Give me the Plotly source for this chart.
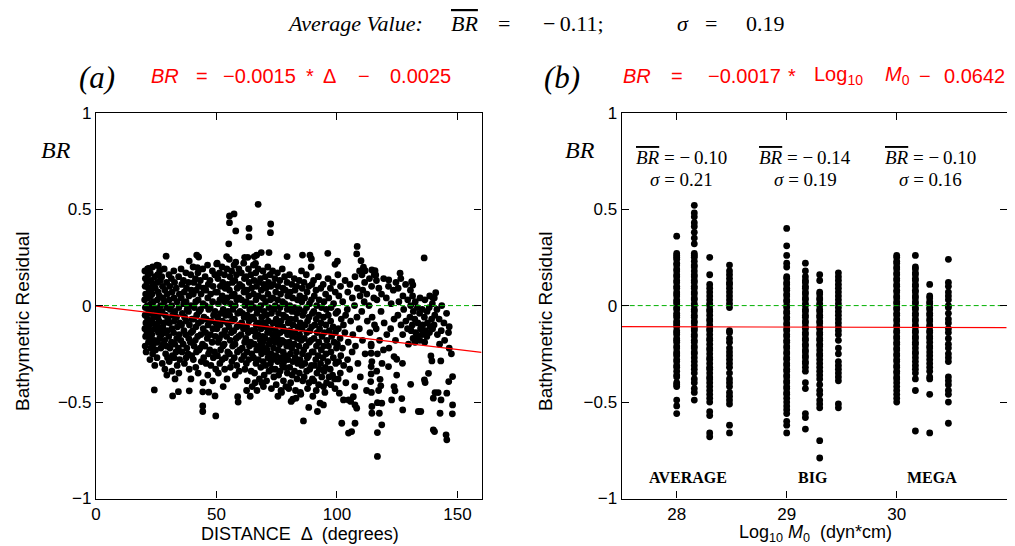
import plotly.graph_objects as go

# ---------------- data: panel (a)  (distance in degrees, BR) ----------------
outliers_top = [(67.3,0.525),(55.4,0.465),(57.3,0.475),(55.4,0.43),(58.0,0.387),(63.5,0.40),(63.5,0.356),
    (72.5,0.423),(72.4,0.378),(55.1,0.32),(108.4,0.307),(108.2,0.268),(136.2,0.247),(96.2,0.271),(85.7,0.262),
    (88.8,0.261),(89.4,0.242),(79.3,0.254),(68.6,0.275),(71.8,0.275),(66.7,0.262),(65.7,0.254),(66.2,0.219),
    (61.7,0.25),(63.0,0.25),(29.1,0.256),(38.7,0.231),(41.8,0.262),(42.6,0.252),(42.1,0.197),(54.2,0.254),
    (50.1,0.216),(58.0,0.225),(25.9,0.207),(21.9,0.193),(99.2,0.214),(100.2,0.23),(110.0,0.233),(111.0,0.199),
    (111.7,0.181),(114.5,0.185),(115.8,0.181),(116.1,0.159),(126.2,0.168),(121.5,0.133),(131.0,0.124),
    (131.5,0.107),(141.0,0.067),(139.8,0.041)]
outliers_low = [(146.6,-0.109),(146.6,-0.221),(148.0,-0.368),(146.4,-0.394),(148.0,-0.515),(147.9,-0.561),
    (145.3,-0.67),(145.6,-0.696),(140.0,-0.644),(140.5,-0.653),(142.8,-0.558),(143.2,-0.489),(140.0,-0.48),
    (140.7,-0.451),(142.0,-0.451),(145.6,-0.454),(133.8,-0.549),(134.8,-0.549),(136.3,-0.385),(136.6,-0.399),
    (138.0,-0.351),(130.6,-0.408),(139.0,-0.261),(139.4,-0.287),(143.1,-0.287),(127.3,-0.541),(126.9,-0.482),
    (122.7,-0.489),(123.7,-0.42),(124.1,-0.442),(121.4,-0.316),(123.7,-0.264),(124.8,-0.278),(127.2,-0.299),
    (117.9,-0.382),(118.2,-0.416),(116.8,-0.503),(118.6,-0.506),(117.6,-0.558),(118.6,-0.618),(116.8,-0.658),
    (116.8,-0.782),(114.5,-0.523),(114.5,-0.558),(114.2,-0.316),(114.2,-0.354),(114.0,-0.394),(114.2,-0.247),
    (114.2,-0.209),(104.8,-0.661),(106.1,-0.653),(107.5,-0.61),(102.0,-0.61),(107.5,-0.515),(108.2,-0.532),
    (106.8,-0.472),(104.8,-0.489),(105.7,-0.497),(101.0,-0.454),(102.7,-0.489),(86.1,-0.598),(88.3,-0.528),
    (91.9,-0.549),(93.0,-0.506),(94.4,-0.515),(81.0,-0.497),(81.7,-0.485),(49.7,-0.572),(44.3,-0.52),
    (44.3,-0.549),(24.2,-0.437),(31.8,-0.468),(34.2,-0.446),(38.7,-0.442),(44.3,-0.447),(46.8,-0.449),
    (49.4,-0.468),(58.8,-0.472),(66.0,-0.40),(69.5,-0.42),(75.5,-0.47),(77.0,-0.45),(80.0,-0.43),(83.0,-0.48),
    (85.0,-0.46),(90.0,-0.47),(95.0,-0.45),(97.5,-0.41),(99.0,-0.38),(62.5,-0.44),(64.0,-0.47)]
cloud_20_35 = [(20.3,0.18),(20.5,0.14),(20.4,0.10),(20.6,0.06),(20.2,0.03),(20.5,-0.01),(20.4,-0.05),(20.7,-0.09),
    (20.3,-0.12),(20.6,-0.16),(20.4,-0.21),(20.8,-0.24),(21.4,0.19),(21.6,0.16),(21.2,0.12),(21.8,0.09),(21.5,0.04),
    (21.3,0.00),(21.9,-0.03),(21.4,-0.07),(21.7,-0.11),(21.2,-0.14),(21.8,-0.19),(22.5,0.17),(22.8,0.13),(22.3,0.08),
    (22.6,0.05),(22.9,0.01),(22.4,-0.04),(22.7,-0.08),(22.2,-0.10),(22.9,-0.13),(22.5,-0.17),(22.8,-0.22),(22.4,-0.28),
    (23.5,0.20),(23.7,0.11),(23.3,0.06),(23.8,0.02),(23.4,-0.02),(23.9,-0.06),(23.6,-0.09),(23.2,-0.15),(23.8,-0.20),
    (23.5,-0.25),(24.4,0.15),(24.6,0.09),(24.3,-0.01),(24.8,-0.05),(24.5,-0.12),(24.2,-0.18),(24.7,-0.23),(24.4,-0.31),
    (25.3,0.21),(25.6,0.16),(25.4,0.12),(25.8,0.07),(25.5,0.03),(25.2,-0.02),(25.7,-0.06),(25.4,-0.10),(25.9,-0.14),
    (25.5,-0.19),(25.3,-0.27),(26.4,0.18),(26.7,0.13),(26.3,0.05),(26.8,0.00),(26.5,-0.04),(26.2,-0.08),(26.7,-0.12),
    (26.4,-0.17),(26.9,-0.22),(27.3,0.15),(27.6,0.10),(27.8,0.04),(27.4,-0.03),(27.7,-0.11),(27.2,-0.15),(27.9,-0.20),
    (27.5,-0.30),(28.3,0.19),(28.6,0.08),(28.4,0.02),(28.8,-0.05),(28.3,-0.09),(28.7,-0.14),(28.5,-0.18),(28.9,-0.25),
    (28.6,-0.33),(29.3,0.12),(29.6,0.06),(29.4,-0.01),(29.8,-0.07),(29.5,-0.13),(29.2,-0.21),(29.7,-0.27),(29.4,-0.36),
    (30.3,0.16),(30.6,0.10),(30.4,0.03),(30.8,-0.02),(30.5,-0.09),(30.2,-0.16),(30.7,-0.22),(30.4,-0.29),(31.3,0.14),
    (31.6,0.07),(31.4,0.00),(31.8,-0.05),(31.5,-0.12),(31.3,-0.19),(31.7,-0.26),(31.5,-0.34),(32.3,0.18),(32.6,0.12),
    (32.4,0.04),(32.8,-0.03),(32.5,-0.08),(32.2,-0.14),(32.7,-0.20),(32.4,-0.27),(32.8,-0.38),(33.3,0.09),(33.6,0.02),
    (33.4,-0.06),(33.8,-0.11),(33.5,-0.17),(33.2,-0.24),(33.7,-0.31),(34.3,0.15),(34.6,0.06),(34.4,-0.01),(34.8,-0.09),
    (34.5,-0.15),(34.2,-0.22),(34.7,-0.28),(34.4,-0.35)]
cloud_35_50 = [(35.3,0.19),(35.6,0.11),(35.4,0.04),(35.8,-0.04),(35.5,-0.10),(35.2,-0.18),(35.7,-0.24),(36.3,0.13),
    (36.6,0.07),(36.4,0.01),(36.8,-0.06),(36.5,-0.13),(36.2,-0.20),(36.7,-0.30),(37.3,0.17),(37.6,0.09),(37.4,0.02),
    (37.8,-0.02),(37.5,-0.08),(37.2,-0.15),(37.7,-0.22),(37.4,-0.27),(38.3,0.12),(38.6,0.05),(38.4,-0.03),(38.8,-0.10),
    (38.5,-0.17),(38.2,-0.25),(38.7,-0.33),(39.3,0.16),(39.6,0.08),(39.4,0.00),(39.8,-0.07),(39.5,-0.14),(39.2,-0.19),
    (39.7,-0.26),(39.4,-0.38),(40.3,0.20),(40.6,0.12),(40.4,0.06),(40.8,-0.01),(40.5,-0.07),(40.2,-0.13),(40.7,-0.21),
    (40.4,-0.28),(41.3,0.14),(41.6,0.08),(41.4,0.02),(41.8,-0.05),(41.5,-0.11),(41.2,-0.18),(41.7,-0.24),(41.4,-0.32),
    (42.3,0.17),(42.6,0.10),(42.4,0.03),(42.8,-0.03),(42.5,-0.09),(42.2,-0.16),(42.7,-0.23),(42.4,-0.35),(43.3,0.13),
    (43.6,0.06),(43.4,-0.02),(43.8,-0.08),(43.5,-0.15),(43.2,-0.22),(43.7,-0.29),(44.3,0.19),(44.6,0.09),(44.4,0.01),
    (44.8,-0.06),(44.5,-0.12),(44.2,-0.20),(44.7,-0.27),(44.4,-0.40),(45.3,0.15),(45.6,0.08),(45.4,0.00),(45.8,-0.07),
    (45.5,-0.14),(45.2,-0.21),(45.7,-0.30),(46.3,0.21),(46.6,0.11),(46.4,0.04),(46.8,-0.02),(46.5,-0.10),(46.2,-0.17),
    (46.7,-0.25),(46.4,-0.36),(47.3,0.13),(47.6,0.06),(47.4,-0.01),(47.8,-0.08),(47.5,-0.15),(47.2,-0.23),(47.7,-0.31),
    (48.3,0.18),(48.6,0.10),(48.4,0.02),(48.8,-0.05),(48.5,-0.12),(48.2,-0.19),(48.7,-0.27),(48.4,-0.39),(49.3,0.16),
    (49.6,0.07),(49.4,-0.03),(49.8,-0.09),(49.5,-0.16),(49.2,-0.24),(49.7,-0.33)]
cloud_50_65 = [(50.3,0.22),(50.6,0.14),(50.4,0.07),(50.8,0.01),(50.5,-0.06),(50.2,-0.12),(50.7,-0.19),(50.4,-0.26),
    (50.8,-0.35),(51.3,0.17),(51.6,0.10),(51.4,0.03),(51.8,-0.04),(51.5,-0.10),(51.2,-0.17),(51.7,-0.23),(51.4,-0.30),
    (52.3,0.20),(52.6,0.12),(52.4,0.05),(52.8,-0.02),(52.5,-0.08),(52.2,-0.15),(52.7,-0.21),(52.4,-0.28),(52.8,-0.42),
    (53.3,0.16),(53.6,0.09),(53.4,0.02),(53.8,-0.05),(53.5,-0.13),(53.2,-0.20),(53.7,-0.27),(53.4,-0.33),(54.3,0.19),
    (54.6,0.11),(54.4,0.04),(54.8,-0.03),(54.5,-0.09),(54.2,-0.16),(54.7,-0.24),(54.4,-0.38),(55.3,0.24),(55.6,0.15),
    (55.4,0.08),(55.8,0.01),(55.5,-0.05),(55.2,-0.11),(55.7,-0.18),(55.4,-0.25),(55.8,-0.32),(56.3,0.18),(56.6,0.12),
    (56.4,0.05),(56.8,-0.02),(56.5,-0.08),(56.2,-0.14),(56.7,-0.21),(56.4,-0.29),(57.3,0.21),(57.6,0.13),(57.4,0.06),
    (57.8,0.00),(57.5,-0.07),(57.2,-0.13),(57.7,-0.20),(57.4,-0.27),(57.8,-0.36),(58.3,0.16),(58.6,0.09),(58.4,0.03),
    (58.8,-0.04),(58.5,-0.11),(58.2,-0.17),(58.7,-0.24),(58.4,-0.31),(59.3,0.19),(59.6,0.11),(59.4,0.04),(59.8,-0.03),
    (59.5,-0.10),(59.2,-0.16),(59.7,-0.23),(59.4,-0.34),(59.0,-0.50),(60.3,0.17),(60.6,0.10),(60.4,0.03),(60.8,-0.04),
    (60.5,-0.09),(60.2,-0.15),(60.7,-0.22),(60.4,-0.28),(61.3,0.22),(61.6,0.14),(61.4,0.07),(61.8,0.00),(61.5,-0.06),
    (61.2,-0.12),(61.7,-0.19),(61.4,-0.26),(61.8,-0.33),(62.3,0.15),(62.6,0.08),(62.4,0.02),(62.8,-0.05),(62.5,-0.11),
    (62.2,-0.17),(62.7,-0.24),(62.4,-0.30),(62.8,-0.39),(63.3,0.19),(63.6,0.12),(63.4,0.05),(63.8,-0.02),(63.5,-0.08),
    (63.2,-0.14),(63.7,-0.21),(63.4,-0.28),(64.3,0.16),(64.6,0.09),(64.4,0.01),(64.8,-0.06),(64.5,-0.13),(64.2,-0.19),
    (64.7,-0.25),(64.4,-0.34),(64.8,-0.42)]
cloud_65_80 = [(65.3,0.21),(65.6,0.13),(65.4,0.06),(65.8,-0.01),(65.5,-0.07),(65.2,-0.13),(65.7,-0.20),(65.4,-0.27),
    (65.8,-0.35),(66.3,0.17),(66.6,0.10),(66.4,0.03),(66.8,-0.04),(66.5,-0.10),(66.2,-0.16),(66.7,-0.23),(66.4,-0.30),
    (66.8,-0.44),(67.3,0.19),(67.6,0.12),(67.4,0.05),(67.8,-0.02),(67.5,-0.09),(67.2,-0.15),(67.7,-0.21),(67.4,-0.28),
    (67.8,-0.38),(68.3,0.14),(68.6,0.08),(68.4,0.00),(68.8,-0.06),(68.5,-0.12),(68.2,-0.18),(68.7,-0.25),(68.4,-0.32),
    (68.8,-0.40),(69.3,0.18),(69.6,0.11),(69.4,0.04),(69.8,-0.03),(69.5,-0.09),(69.2,-0.16),(69.7,-0.22),(69.4,-0.29),
    (69.8,-0.36),(69.2,-0.19),(66.0,-0.13),(68.0,-0.22),(70.3,0.15),(70.6,0.09),(70.4,0.02),(70.8,-0.05),(70.5,-0.11),
    (70.2,-0.17),(70.7,-0.24),(70.4,-0.31),(70.8,-0.39),(71.3,0.20),(71.6,0.12),(71.4,0.06),(71.8,-0.01),(71.5,-0.08),
    (71.2,-0.14),(71.7,-0.20),(71.4,-0.27),(71.8,-0.34),(72.3,0.16),(72.6,0.10),(72.4,0.03),(72.8,-0.04),(72.5,-0.12),
    (72.2,-0.18),(72.7,-0.25),(72.4,-0.30),(72.8,-0.43),(73.3,0.18),(73.6,0.11),(73.4,0.04),(73.8,-0.02),(73.5,-0.09),
    (73.2,-0.15),(73.7,-0.22),(73.4,-0.28),(73.8,-0.37),(74.3,0.14),(74.6,0.07),(74.4,0.00),(74.8,-0.07),(74.5,-0.13),
    (74.2,-0.19),(74.7,-0.26),(74.4,-0.33),(74.8,-0.41),(71.0,-0.23),(73.0,-0.33),(74.0,-0.16),(75.3,0.17),(75.6,0.10),
    (75.4,0.03),(75.8,-0.04),(75.5,-0.10),(75.2,-0.16),(75.7,-0.23),(75.4,-0.29),(75.8,-0.36),(76.3,0.13),(76.6,0.06),
    (76.4,-0.01),(76.8,-0.08),(76.5,-0.14),(76.2,-0.20),(76.7,-0.27),(76.4,-0.34),(76.8,-0.44),(77.3,0.19),(77.6,0.09),
    (77.4,0.02),(77.8,-0.05),(77.5,-0.11),(77.2,-0.18),(77.7,-0.24),(77.4,-0.31),(77.8,-0.39),(78.3,0.15),(78.6,0.08),
    (78.4,0.01),(78.8,-0.06),(78.5,-0.13),(78.2,-0.19),(78.7,-0.26),(78.4,-0.32),(78.8,-0.42),(79.3,0.12),(79.6,0.05),
    (79.4,-0.02),(79.8,-0.09),(79.5,-0.15),(79.2,-0.21),(79.7,-0.28),(79.4,-0.35),(76.0,-0.18),(78.0,-0.29)]
cloud_80_100 = [(80.3,0.16),(80.6,0.07),(80.4,0.00),(80.8,-0.07),(80.5,-0.13),(80.2,-0.19),(80.7,-0.25),(80.4,-0.32),
    (80.8,-0.40),(81.3,0.11),(81.6,0.04),(81.4,-0.03),(81.8,-0.10),(81.5,-0.16),(81.2,-0.22),(81.7,-0.29),(81.4,-0.36),
    (82.3,0.14),(82.6,0.08),(82.4,-0.01),(82.8,-0.07),(82.5,-0.14),(82.2,-0.20),(82.7,-0.27),(82.4,-0.34),(82.8,-0.44),
    (83.3,0.10),(83.6,0.03),(83.4,-0.04),(83.8,-0.11),(83.5,-0.17),(83.2,-0.24),(83.7,-0.30),(83.4,-0.38),(84.3,0.13),
    (84.6,0.05),(84.4,-0.02),(84.8,-0.09),(84.5,-0.15),(84.2,-0.21),(84.7,-0.28),(84.4,-0.35),(84.8,-0.45),(85.3,0.18),
    (85.6,0.09),(85.4,0.02),(85.8,-0.05),(85.5,-0.12),(85.2,-0.18),(85.7,-0.25),(85.4,-0.31),(85.8,-0.39),(86.3,0.12),
    (86.6,0.04),(86.4,-0.03),(86.8,-0.10),(86.5,-0.17),(86.2,-0.23),(86.7,-0.30),(86.4,-0.37),(87.3,0.16),(87.6,0.07),
    (87.4,-0.01),(87.8,-0.08),(87.5,-0.14),(87.2,-0.21),(87.7,-0.27),(87.4,-0.34),(87.8,-0.43),(88.3,0.10),(88.6,0.01),
    (88.4,-0.06),(88.8,-0.13),(88.5,-0.19),(88.2,-0.26),(88.7,-0.33),(88.4,-0.40),(89.3,0.20),(89.6,0.11),(89.4,0.03),
    (89.8,-0.04),(89.5,-0.11),(89.2,-0.18),(89.7,-0.24),(89.4,-0.31),(89.8,-0.38),(90.3,0.13),(90.6,0.05),(90.4,-0.03),
    (90.8,-0.10),(90.5,-0.17),(90.2,-0.24),(90.7,-0.31),(90.4,-0.39),(91.3,0.08),(91.6,0.00),(91.4,-0.07),(91.8,-0.14),
    (91.5,-0.21),(91.2,-0.28),(91.7,-0.35),(91.4,-0.44),(92.3,0.15),(92.6,0.03),(92.4,-0.05),(92.8,-0.12),(92.5,-0.19),
    (92.2,-0.26),(92.7,-0.33),(92.4,-0.41),(93.3,0.09),(93.6,-0.01),(93.4,-0.09),(93.8,-0.16),(93.5,-0.23),(93.2,-0.30),
    (93.7,-0.37),(94.3,0.11),(94.6,0.02),(94.4,-0.06),(94.8,-0.14),(94.5,-0.21),(94.2,-0.27),(94.7,-0.34),(94.4,-0.42),
    (95.3,0.06),(95.6,-0.02),(95.4,-0.10),(95.8,-0.18),(95.5,-0.25),(95.2,-0.32),(95.7,-0.40),(96.3,0.14),(96.6,0.04),
    (96.4,-0.05),(96.8,-0.13),(96.5,-0.21),(96.2,-0.29),(96.7,-0.37),(97.3,0.09),(97.6,-0.01),(97.4,-0.08),(97.8,-0.16),
    (97.5,-0.24),(97.2,-0.33),(98.3,0.12),(98.6,0.01),(98.4,-0.11),(98.8,-0.19),(98.5,-0.27),(98.2,-0.36),(99.3,0.07),
    (99.6,-0.04),(99.4,-0.14),(99.8,-0.22),(99.5,-0.30),(99.2,-0.43)]
cloud_100_150 = [(100.4,0.16),(100.8,0.05),(100.3,-0.03),(100.6,-0.12),(100.2,-0.20),(100.7,-0.29),(100.5,-0.38),
    (101.5,0.10),(101.8,-0.07),(101.3,-0.17),(101.6,-0.26),(101.4,-0.35),(102.4,0.02),(102.7,-0.10),(102.3,-0.22),
    (102.8,-0.31),(103.4,0.13),(103.6,-0.05),(103.3,-0.14),(103.7,-0.40),(104.5,0.07),(104.3,-0.02),(104.7,-0.19),
    (104.4,-0.28),(105.4,0.11),(105.7,-0.08),(105.3,-0.33),(106.4,0.04),(106.6,-0.15),(106.3,-0.24),(107.5,0.15),
    (107.3,0.00),(107.7,-0.21),(107.4,-0.42),(108.5,0.09),(108.3,-0.06),(108.7,-0.30),(109.4,0.18),(109.6,0.05),
    (109.3,-0.12),(109.7,-0.37),(110.4,0.16),(110.7,0.08),(110.3,-0.03),(110.6,-0.18),(111.5,0.12),(111.3,0.02),
    (111.7,-0.25),(112.4,0.06),(112.6,-0.08),(112.3,-0.44),(113.5,0.14),(113.3,0.00),(113.7,-0.14),(114.4,0.10),
    (114.6,-0.06),(114.2,-0.20),(114.5,-0.29),(114.3,-0.45),(115.5,0.16),(115.3,0.04),(115.6,-0.10),(116.4,0.13),
    (116.6,0.03),(116.3,-0.12),(116.8,-0.25),(116.5,-0.34),(117.4,0.09),(117.7,-0.18),(117.3,-0.44),(118.5,0.06),
    (118.3,-0.03),(118.7,-0.30),(119.4,0.14),(119.6,-0.09),(119.3,-0.23),(120.5,0.04),(120.7,-0.15),(121.4,0.10),
    (121.6,-0.22),(122.5,0.01),(122.3,-0.12),(123.4,0.08),(123.7,-0.07),(124.5,0.12),(124.3,-0.18),(124.8,-0.36),
    (125.4,0.09),(125.7,0.02),(125.3,-0.05),(126.5,0.14),(126.6,-0.10),(127.4,0.05),(127.7,-0.02),(127.3,-0.15),
    (128.5,0.11),(128.6,-0.08),(129.4,0.03),(129.3,-0.12),(129.7,-0.20),(130.5,0.08),(130.6,0.00),(130.3,-0.06),
    (130.8,-0.13),(131.4,0.05),(131.7,-0.03),(131.3,-0.10),(131.6,-0.17),(132.5,0.02),(132.3,-0.07),(132.7,-0.14),
    (132.4,-0.19),(133.4,-0.01),(133.6,-0.09),(133.3,-0.16),(134.5,0.04),(134.3,-0.04),(134.7,-0.12),(134.4,-0.18),
    (135.4,-0.02),(135.6,-0.10),(135.3,-0.15),(136.5,0.03),(136.3,-0.06),(136.7,-0.13),(136.4,-0.19),(137.4,-0.03),
    (137.6,-0.09),(137.3,-0.16),(138.5,0.05),(138.3,-0.01),(138.7,-0.11),(138.4,-0.14),(139.6,0.01),(139.3,-0.07),
    (139.7,-0.12),(140.4,0.04),(140.6,-0.05),(140.3,-0.10),(141.5,-0.02),(141.7,-0.15),(142.4,-0.07),(142.6,-0.20),
    (143.5,0.00),(143.3,-0.13),(144.4,-0.09),(144.7,-0.18),(145.5,-0.04),(146.3,-0.14),(147.5,-0.25)]

# ---------------- data: panel (b)  (log10 M0 column positions, BR) ----------------
col_x = [28.0, 28.16, 28.3, 28.48, 29.0, 29.17, 29.3, 29.47, 30.0, 30.17, 30.3, 30.47]
col_br = [
    [0.36,0.27,0.26,0.25,0.24,0.22,0.21,0.19,0.18,0.16,0.15,0.13,0.12,0.10,0.09,0.07,0.06,0.05,0.03,0.02,0.01,-0.01,
     -0.02,-0.04,-0.05,-0.06,-0.08,-0.09,-0.10,-0.11,-0.13,-0.14,-0.15,-0.17,-0.18,-0.19,-0.21,-0.22,-0.24,-0.25,-0.26,
     -0.28,-0.29,-0.31,-0.32,-0.34,-0.36,-0.37,-0.40,-0.41,-0.42,-0.49,-0.52,-0.56],
    [0.52,0.48,0.46,0.43,0.41,0.38,0.35,0.32,0.27,0.26,0.25,0.23,0.21,0.20,0.18,0.16,0.15,0.13,0.12,0.10,0.09,0.07,
     0.06,0.04,0.03,0.01,0.00,-0.02,-0.03,-0.05,-0.06,-0.08,-0.09,-0.11,-0.12,-0.13,-0.15,-0.16,-0.18,-0.19,-0.21,-0.22,
     -0.24,-0.25,-0.27,-0.29,-0.31,-0.33,-0.35,-0.38,-0.40,-0.43,-0.45,-0.49],
    [0.25,0.16,0.11,0.09,0.07,0.05,0.03,0.01,0.00,-0.02,-0.03,-0.05,-0.07,-0.08,-0.10,-0.12,-0.13,-0.15,-0.17,-0.18,
     -0.20,-0.22,-0.23,-0.25,-0.27,-0.28,-0.30,-0.32,-0.33,-0.35,-0.37,-0.38,-0.40,-0.42,-0.44,-0.46,-0.48,-0.50,-0.55,
     -0.57,-0.66,-0.68],
    [0.21,0.18,0.16,0.14,0.12,0.11,0.09,0.07,0.05,0.03,0.01,-0.01,-0.13,-0.14,-0.17,-0.19,-0.22,-0.24,-0.26,-0.28,
     -0.30,-0.32,-0.35,-0.38,-0.40,-0.42,-0.45,-0.47,-0.49,-0.51,-0.62,-0.66],
    [0.40,0.31,0.26,0.22,0.20,0.15,0.14,0.12,0.11,0.09,0.08,0.06,0.05,0.03,0.02,0.00,-0.01,-0.03,-0.04,-0.06,-0.07,
     -0.09,-0.10,-0.12,-0.13,-0.15,-0.16,-0.18,-0.19,-0.21,-0.22,-0.24,-0.25,-0.27,-0.28,-0.30,-0.31,-0.33,-0.34,-0.36,
     -0.37,-0.39,-0.40,-0.42,-0.43,-0.45,-0.46,-0.48,-0.50,-0.52,-0.54,-0.56,-0.60,-0.62,-0.66],
    [0.22,0.18,0.15,0.13,0.12,0.10,0.09,0.07,0.06,0.04,0.03,0.01,0.00,-0.02,-0.03,-0.05,-0.06,-0.08,-0.09,-0.11,-0.12,
     -0.14,-0.15,-0.17,-0.18,-0.20,-0.21,-0.23,-0.24,-0.26,-0.27,-0.29,-0.30,-0.32,-0.34,-0.40,-0.43,-0.56,-0.58,-0.64],
    [0.16,0.13,0.07,0.06,0.04,0.03,0.01,0.00,-0.02,-0.03,-0.05,-0.06,-0.08,-0.09,-0.11,-0.12,-0.14,-0.15,-0.17,-0.18,
     -0.20,-0.21,-0.23,-0.25,-0.26,-0.28,-0.30,-0.32,-0.34,-0.36,-0.38,-0.41,-0.44,-0.46,-0.49,-0.51,-0.53,-0.70,-0.79],
    [0.17,0.15,0.13,0.11,0.09,0.07,0.05,0.03,0.01,-0.01,-0.03,-0.05,-0.07,-0.09,-0.11,-0.13,-0.15,-0.18,-0.22,-0.25,
     -0.29,-0.31,-0.33,-0.35,-0.37,-0.39,-0.51,-0.53],
    [0.26,0.25,0.23,0.22,0.20,0.19,0.17,0.16,0.14,0.13,0.11,0.10,0.08,0.07,0.05,0.04,0.02,0.01,-0.01,-0.02,-0.04,-0.05,
     -0.07,-0.08,-0.10,-0.11,-0.13,-0.14,-0.16,-0.17,-0.19,-0.20,-0.22,-0.23,-0.25,-0.26,-0.28,-0.29,-0.31,-0.32,-0.34,
     -0.35,-0.37,-0.38,-0.40,-0.42,-0.44,-0.46,-0.48,-0.50],
    [0.26,0.20,0.19,0.17,0.16,0.14,0.13,0.11,0.10,0.08,0.07,0.05,0.04,0.02,0.01,-0.01,-0.02,-0.04,-0.05,-0.07,-0.08,
     -0.10,-0.11,-0.13,-0.14,-0.16,-0.17,-0.19,-0.20,-0.22,-0.24,-0.25,-0.27,-0.29,-0.31,-0.33,-0.35,-0.38,-0.44,-0.65],
    [0.11,0.05,0.04,0.02,0.01,-0.01,-0.02,-0.04,-0.05,-0.07,-0.08,-0.10,-0.11,-0.13,-0.14,-0.16,-0.17,-0.19,-0.21,
     -0.22,-0.24,-0.26,-0.28,-0.30,-0.32,-0.34,-0.37,-0.38,-0.46,-0.66],
    [0.24,0.12,0.10,0.07,0.05,0.03,0.00,-0.01,-0.04,-0.07,-0.09,-0.12,-0.14,-0.17,-0.20,-0.22,-0.25,-0.27,-0.29,-0.37,
     -0.39,-0.41,-0.44,-0.46,-0.50,-0.61],
]
group_labels = ["AVERAGE", "BIG", "MEGA"]
group_label_x = [28.10, 29.24, 30.32]
group_mean = ["−\u20090.10", "−\u20090.14", "−\u20090.10"]
group_sigma = ["0.21", "0.19", "0.16"]
group_stat_x = [28.04, 29.17, 30.31]

# regression / reference lines (endpoints)
fit_a_x = [0, 160]
fit_a_y = [-0.0025, -0.2425]
fit_b_x = [27.5, 31]
fit_b_y = [-0.109, -0.114]
zero_a_x = [0, 160]
zero_b_x = [27.5, 31]

# ---------------- figure ----------------
# the page body adds an 8 px margin, so the figure is 8 px smaller and
# screen positions are converted to figure positions by subtracting it
OFF = 8
W, H = 1015 - OFF, 546 - OFF
def px(x): return (x - OFF) / W
def py(y): return 1 - (y - OFF) / H

fig = go.Figure()
GREEN = "#00b000"
RED = "#ff0000"
MS = 6.8

pts_a = outliers_top + outliers_low + cloud_20_35 + cloud_35_50 + cloud_50_65 + cloud_65_80 + cloud_80_100 + cloud_100_150
fig.add_trace(go.Scatter(x=[p[0] for p in pts_a], y=[p[1] for p in pts_a], mode="markers",
                         marker=dict(color="black", size=MS, line=dict(width=0)), xaxis="x", yaxis="y"))
fig.add_trace(go.Scatter(x=zero_a_x, y=[0, 0], mode="lines", line=dict(color=GREEN, width=1, dash="5px,3px"),
                         xaxis="x", yaxis="y", hoverinfo="skip"))
fig.add_trace(go.Scatter(x=fit_a_x, y=fit_a_y, mode="lines", line=dict(color=RED, width=1.2), xaxis="x", yaxis="y"))

bx, by = [], []
for cx, vals in zip(col_x, col_br):
    bx += [cx] * len(vals)
    by += vals
fig.add_trace(go.Scatter(x=bx, y=by, mode="markers", marker=dict(color="black", size=MS, line=dict(width=0)),
                         xaxis="x2", yaxis="y2"))
fig.add_trace(go.Scatter(x=zero_b_x, y=[0, 0], mode="lines", line=dict(color=GREEN, width=1, dash="5px,3px"),
                         xaxis="x2", yaxis="y2", hoverinfo="skip"))
fig.add_trace(go.Scatter(x=fit_b_x, y=fit_b_y, mode="lines", line=dict(color=RED, width=1.2), xaxis="x2", yaxis="y2"))

SANS = "Liberation Sans, Arial, sans-serif"
SERIF = "Liberation Serif, Times New Roman, serif"
TICKFONT = dict(family=SANS, size=17, color="black")
ax_common = dict(showline=True, linecolor="black", linewidth=1.3, mirror="ticks", ticks="inside", ticklen=7,
                 tickcolor="black", tickwidth=1, showgrid=False, zeroline=False, tickfont=TICKFONT,
                 automargin=False)
yd = [py(498.5), py(112.7)]
fig.update_layout(
    width=W, height=H, margin=dict(l=0, r=0, t=0, b=0, pad=0, autoexpand=False), showlegend=False,
    plot_bgcolor="white", paper_bgcolor="white",
    xaxis=dict(domain=[px(96), px(481.5)], range=[0, 160], tickvals=[0, 50, 100, 150], anchor="y", **ax_common),
    yaxis=dict(domain=yd, range=[-1, 1], tickvals=[-1, -0.5, 0, 0.5, 1], anchor="x", **ax_common),
    xaxis2=dict(domain=[px(621.7), px(1006.7)], range=[27.5, 31], tickvals=[28, 29, 30, 31], anchor="y2", **ax_common),
    yaxis2=dict(domain=yd, range=[-1, 1], tickvals=[-1, -0.5, 0, 0.5, 1], anchor="x2", **ax_common),
)

OVER = '<span style="text-decoration:overline">BR</span>'
ann = []
def A(text, x, y, size, family=SERIF, color="black", xanchor="center", angle=0):
    ann.append(dict(text=text, x=px(x), y=py(y), xref="paper", yref="paper", showarrow=False,
                    font=dict(family=family, size=size, color=color), xanchor=xanchor, yanchor="middle",
                    textangle=angle))

# top title (pieces placed where they sit in the figure)
TY = 23.5
TS = 22
A("<i>Average Value:</i>", 355, TY, TS)
A("<i>" + OVER + "</i>", 464, TY, TS)
A("=", 504, TY, TS)
A("−\u20090.11;", 573, TY, TS)
A("<i>σ</i>", 683, TY, TS)
A("=", 711, TY, TS)
A("0.19", 765, TY, TS)

# panel headers
A("<i>(a)</i>", 97, 78, 31)
A("<i>(b)</i>", 562, 78, 31)
RY = 76
for t, x in [("<i>BR</i>", 165), ("=", 202), ("−0.0015", 259), ("*", 310), ("Δ", 329), ("−", 364), ("0.0025", 420)]:
    A(t, x, RY, 20, family=SANS, color=RED)
for t, x in [("<i>BR</i>", 637), ("=", 677), ("−0.0017", 744), ("*", 792), ("Log<sub>10</sub>", 838),
             ("<i>M</i><sub>0</sub>", 897), ("−", 925), ("0.0642", 974)]:
    A(t, x, RY, 20, family=SANS, color=RED)

# y titles
A("Bathymetric Residual", 22, 321, 19, family=SANS, angle=-90)
A("<i>BR</i>", 56, 150, 24)
A("Bathymetric Residual", 545, 321, 19, family=SANS, angle=-90)
A("<i>BR</i>", 580, 150, 24)
# x titles
A("DISTANCE  Δ  (degrees)", 300, 534, 18, family=SANS)
A("Log<sub>10</sub> <i>M</i><sub>0</sub>  (dyn*cm)", 815, 533, 18, family=SANS)

fig.update_layout(annotations=ann)

# group stats and labels in data coords of panel (b)
for lab, lx, m, s, sx in zip(group_labels, group_label_x, group_mean, group_sigma, group_stat_x):
    fig.add_annotation(text="<b>" + lab + "</b>", x=lx, y=-0.893, xref="x2", yref="y2", showarrow=False,
                       font=dict(family=SERIF, size=16, color="black"))
    fig.add_annotation(text="<i>" + OVER + "</i> = " + m, x=sx, y=0.77, xref="x2", yref="y2", showarrow=False,
                       font=dict(family=SERIF, size=19, color="black"))
    fig.add_annotation(text="<i>σ</i> = " + s, x=sx, y=0.656, xref="x2", yref="y2", showarrow=False,
                       font=dict(family=SERIF, size=19, color="black"))

fig.write_html("out.html")
